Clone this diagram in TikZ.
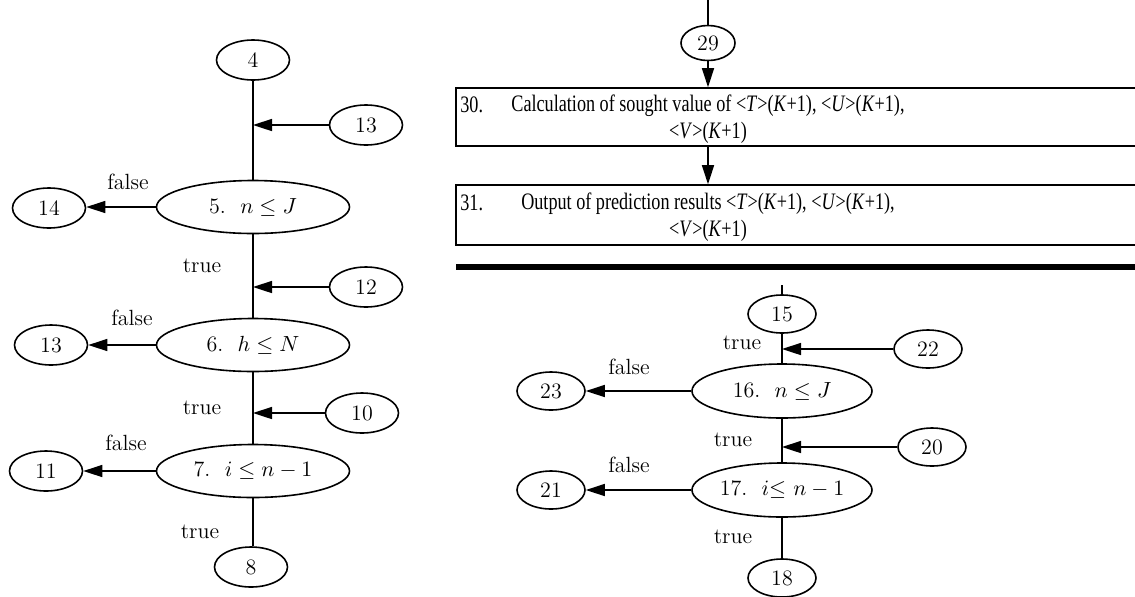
\documentclass[tikz,border=0pt]{standalone}
\usepackage{fontspec}
\newfontfamily\boxfont[FakeStretch=0.77]{Liberation Serif}
\usetikzlibrary{shapes.geometric,arrows.meta}
\begin{document}
\begin{tikzpicture}[x=0.5pt,y=-0.5pt,
  every node/.style={font=\fontsize{11}{13}\selectfont},
  oval/.style={draw,ellipse,line width=0.8pt,inner sep=0pt,minimum width=36.5pt,minimum height=20pt},
  ovals/.style={oval,minimum width=34pt,minimum height=19pt},
  ovalt/.style={oval,minimum width=27pt,minimum height=17.5pt},
  bigL/.style={oval,minimum width=96.5pt,minimum height=26.5pt},
  bigR/.style={oval,minimum width=90pt,minimum height=27pt},
  conn/.style={line width=0.8pt},
  arr/.style={line width=0.8pt,-{Triangle[length=9.5pt,width=6pt]}},
  lbl/.style={inner sep=1pt},
  boxr/.style={draw,line width=0.8pt,rectangle,inner sep=0pt},
  boxtxt/.style={font=\boxfont\fontsize{11.8}{13.5}\selectfont,align=center,inner sep=0pt}
]
\clip (0,0) rectangle (1135,596);
% ---------------- left flowchart
\node[oval] (n4) at (253,60) {4};
\node[oval] (r13) at (366,125) {13};
\node[bigL] (n5) at (253,207) {5.\ \ $n \le J$};
\node[oval] (n14) at (49,208) {14};
\node[lbl] (f5) at (128,182) {false};
\node[lbl] (t5) at (202,266) {true};
\node[oval] (r12) at (366,287) {12};
\node[bigL] (n6) at (253,345) {6.\ \ $h \le N$};
\node[oval] (n13) at (51,345) {13};
\node[lbl] (f6) at (132,318) {false};
\node[lbl] (t6) at (202,408) {true};
\node[oval] (r10) at (362,413) {10};
\node[bigL] (n7) at (253,471) {7.\ \ $i \le n-1$};
\node[oval] (n11) at (46,471) {11};
\node[lbl] (f7) at (126,443) {false};
\node[lbl] (t7) at (200,532) {true};
\node[oval] (n8) at (251,567) {8};

\draw[conn] (n4.south) -- (n5.north);
\draw[conn] (n5.south) -- (n6.north);
\draw[conn] (n6.south) -- (n7.north);
\draw[conn] (n7.south) -- (n7.south |- n8.north);
\draw[arr] (r13.west) -- (r13.west -| n4.south);
\draw[arr] (r12.west) -- (r12.west -| n5.south);
\draw[arr] (r10.west) -- (r10.west -| n6.south);
\draw[arr] (n5.west) -- (n5.west -| n14.east);
\draw[arr] (n6.west) -- (n6.west -| n13.east);
\draw[arr] (n7.west) -- (n7.west -| n11.east);

% ---------------- top right
\coordinate (top29) at (708,0);
\node[ovalt] (n29) at (708,43) {29};
\node[boxr,minimum width=352pt,minimum height=29pt] (b30) at (808,117) {};
\node[boxtxt] (t30) at (708,119) {Calculation of sought value of \textless\textit{T}\textgreater(\textit{K}+1), \textless\textit{U}\textgreater(\textit{K}+1),\\\textless\textit{V}\textgreater(\textit{K}+1)};
\node[boxtxt,anchor=west] (k30) at (460,105) {30.};
\node[boxr,minimum width=352pt,minimum height=30pt] (b31) at (808,215) {};
\node[boxtxt] (t31) at (708,217) {Output of prediction results \textless\textit{T}\textgreater(\textit{K}+1), \textless\textit{U}\textgreater(\textit{K}+1),\\\textless\textit{V}\textgreater(\textit{K}+1)};
\node[boxtxt,anchor=west] (k31) at (460,203) {31.};
\draw[conn] (top29) -- (n29.north);
\draw[arr] (n29.south) -- (n29.south |- b30.north);
\draw[arr] (n29.south |- b30.south) -- (n29.south |- b31.north);
\coordinate (ruleL) at (456,267);
\coordinate (ruleR) at (1140,267);
\draw[line width=3pt] (ruleL) -- (ruleR);

% ---------------- bottom right
\coordinate (top15) at (782,285);
\node[ovals] (n15) at (782,314) {15};
\node[ovals] (r22) at (928,349) {22};
\node[lbl] (t15) at (742,343) {true};
\node[bigR] (n16) at (782,391) {16.\ \ $n \le J$};
\node[ovals] (n23) at (551,391) {23};
\node[lbl] (f16) at (629,367) {false};
\node[lbl] (t16) at (733,440) {true};
\node[ovals] (r20) at (932,447) {20};
\node[bigR] (n17) at (782,490) {17.\ \ $i{\le}\ n-1$};
\node[ovals] (n21) at (551,490) {21};
\node[lbl] (f17) at (629,465) {false};
\node[lbl] (t17) at (733,537) {true};
\node[ovals] (n18) at (782,578) {18};

\draw[conn] (top15) -- (n15.north);
\draw[conn] (n15.south) -- (n16.north);
\draw[conn] (n16.south) -- (n17.north);
\draw[conn] (n17.south) -- (n18.north);
\draw[arr] (r22.west) -- (r22.west -| n15.south);
\draw[arr] (r20.west) -- (r20.west -| n16.south);
\draw[arr] (n16.west) -- (n16.west -| n23.east);
\draw[arr] (n17.west) -- (n17.west -| n21.east);
\end{tikzpicture}
\end{document}
